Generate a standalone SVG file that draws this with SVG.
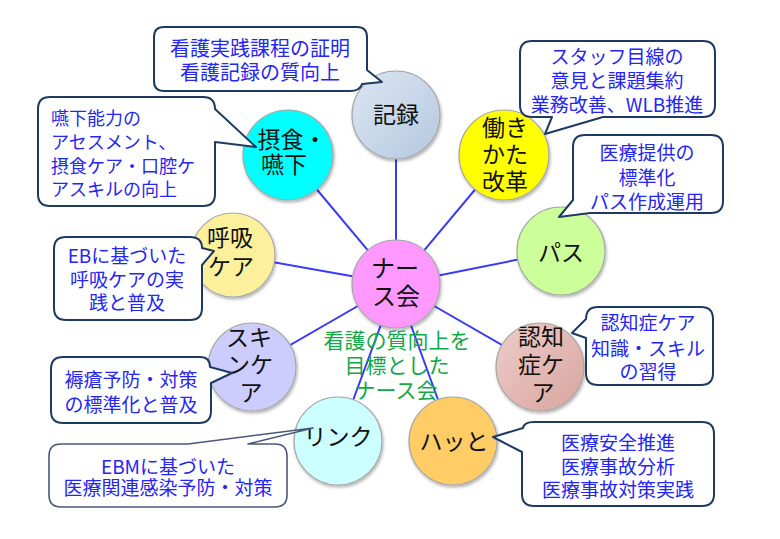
<svg xmlns="http://www.w3.org/2000/svg" width="780" height="539" viewBox="0 0 780 539">
<style>
.bg{fill:#ffffff}
.conn line{stroke:#3a3af5;stroke-width:2}
.node circle{stroke:#a8a8a8;stroke-width:1.2;filter:url(#sh)}
.lbl{font-family:"Noto Sans CJK JP","Noto Sans CJK SC",sans-serif;font-size:23px;fill:#111;text-anchor:middle}
.call path{fill:#ffffff;stroke:#1f3a60;stroke-width:2;stroke-linejoin:round}
.ct{font-family:"Noto Sans CJK JP","Noto Sans CJK SC",sans-serif;font-size:19px;fill:#2626f0;text-anchor:middle}
.gt{font-family:"Noto Sans CJK JP","Noto Sans CJK SC",sans-serif;font-size:21px;fill:#12a84a;text-anchor:middle}
</style>
<defs>
<filter id="sh" x="-20%" y="-20%" width="140%" height="150%">
<feDropShadow dx="1" dy="2" stdDeviation="1.8" flood-color="#000" flood-opacity="0.3"/>
</filter>
<linearGradient id="gKiroku" x1="0" y1="0" x2="1" y2="1">
<stop offset="0" stop-color="#dce6f2"/><stop offset="1" stop-color="#b4c8e0"/>
</linearGradient>
<linearGradient id="gNinchi" x1="0" y1="0" x2="1" y2="1">
<stop offset="0" stop-color="#eecdc9"/><stop offset="1" stop-color="#d8a49e"/>
</linearGradient>
</defs>
<rect class="bg" x="0" y="0" width="780" height="539"/>

<g id="connectors" class="conn">
<line x1="396" y1="284" x2="396" y2="115"/>
<line x1="396" y1="284" x2="288" y2="155"/>
<line x1="396" y1="284" x2="504" y2="155"/>
<line x1="396" y1="284" x2="561" y2="251"/>
<line x1="396" y1="284" x2="233" y2="255"/>
<line x1="396" y1="284" x2="252" y2="367"/>
<line x1="396" y1="284" x2="540" y2="367"/>
<line x1="396" y1="284" x2="338" y2="441"/>
<line x1="396" y1="284" x2="453" y2="441"/>
</g>

<text class="gt" x="397" y="348">看護の質向上を</text>
<text class="gt" x="397" y="373">目標とした</text>
<text class="gt" x="396" y="398">ナース会</text>

<g id="node-kiroku" class="node">
<circle cx="396" cy="115" r="44" fill="url(#gKiroku)"/>
<text class="lbl" x="396" y="123">記録</text>
</g>
<g id="node-sesshoku" class="node">
<circle cx="288" cy="155" r="45" fill="#00ffff"/>
<text class="lbl" x="292" y="148">摂食・</text>
<text class="lbl" x="284" y="173">嚥下</text>
</g>
<g id="node-hataraki" class="node">
<circle cx="504" cy="155" r="45" fill="#ffff00"/>
<text class="lbl" x="505" y="136">働き</text>
<text class="lbl" x="505" y="163">かた</text>
<text class="lbl" x="505" y="190">改革</text>
</g>
<g id="node-pasu" class="node">
<circle cx="561" cy="251" r="44" fill="#ccff99"/>
<text class="lbl" x="561" y="261">パス</text>
</g>
<g id="node-nurse" class="node">
<circle cx="396" cy="284" r="44" fill="#ff99ff"/>
<text class="lbl" x="395" y="277" style="font-size:24px">ナー</text>
<text class="lbl" x="396" y="305" style="font-size:24px">ス会</text>
</g>
<g id="node-kokyu" class="node">
<circle cx="233" cy="255" r="42" fill="#fcf09c"/>
<text class="lbl" x="230" y="246">呼吸</text>
<text class="lbl" x="231" y="275">ケア</text>
</g>
<g id="node-skin" class="node">
<circle cx="252" cy="367" r="44" fill="#ccccff"/>
<text class="lbl" x="249" y="346">スキ</text>
<text class="lbl" x="250" y="373">ンケ</text>
<text class="lbl" x="251" y="401">ア</text>
</g>
<g id="node-ninchi" class="node">
<circle cx="540" cy="367" r="44" fill="url(#gNinchi)"/>
<text class="lbl" x="541" y="345">認知</text>
<text class="lbl" x="541" y="373">症ケ</text>
<text class="lbl" x="543" y="401">ア</text>
</g>
<g id="node-link" class="node">
<circle cx="338" cy="441" r="44" fill="#ccffff"/>
<text class="lbl" x="338" y="445">リンク</text>
</g>
<g id="node-hatto" class="node">
<circle cx="453" cy="441" r="44" fill="#ffcc66"/>
<text class="lbl" x="454" y="450">ハッと</text>
</g>

<g id="callout-kiroku" class="call">
<path d="M164,27 H357 Q367,27 367,37 V70 L382,82 L362,84 Q360,91 350,91 H164 Q154,91 154,81 V37 Q154,27 164,27 Z"/>
<text class="ct" x="260" y="56" style="font-size:20px">看護実践課程の証明</text>
<text class="ct" x="260" y="80" style="font-size:20px">看護記録の質向上</text>
</g>
<g id="callout-sesshoku" class="call">
<path d="M50,97 H203 Q215,97 215,109 L256,147 L215,142 V194 Q215,206 203,206 H50 Q38,206 38,194 V109 Q38,97 50,97 Z"/>
<text class="ct" x="51" y="125" style="font-size:18px;text-anchor:start">嚥下能力の</text>
<text class="ct" x="51" y="149" style="font-size:18px;text-anchor:start">アセスメント、</text>
<text class="ct" x="51" y="173" style="font-size:18px;text-anchor:start">摂食ケア・口腔ケ</text>
<text class="ct" x="51" y="196" style="font-size:18px;text-anchor:start">アスキルの向上</text>
</g>
<g id="callout-hataraki" class="call">
<path d="M532,41 H703 Q715,41 715,53 V105 Q715,117 703,117 H603 L545,134 L552,117 H532 Q520,117 520,105 V53 Q520,41 532,41 Z"/>
<text class="ct" x="617" y="64">スタッフ目線の</text>
<text class="ct" x="617" y="88">意見と課題集約</text>
<text class="ct" x="617" y="112">業務改善、WLB推進</text>
</g>
<g id="callout-pasu" class="call">
<path d="M585,135 H711 Q723,135 723,147 V201 Q723,213 711,213 H590 L559,217 L573,200 V147 Q573,135 585,135 Z"/>
<text class="ct" x="647" y="160">医療提供の</text>
<text class="ct" x="647" y="185">標準化</text>
<text class="ct" x="647" y="209">パス作成運用</text>
</g>
<g id="callout-kokyu" class="call">
<path d="M66,237 H190 Q202,237 202,248 L214,251 L202,265 V308 Q202,320 190,320 H66 Q54,320 54,308 V249 Q54,237 66,237 Z"/>
<text class="ct" x="127" y="263">EBに基づいた</text>
<text class="ct" x="127" y="287">呼吸ケアの実</text>
<text class="ct" x="127" y="310">践と普及</text>
</g>
<g id="callout-skin" class="call">
<path d="M63,357 H200 Q210,357 210,367 L232,373 L211,383 V411 Q211,423 199,423 H63 Q51,423 51,411 V369 Q51,357 63,357 Z"/>
<text class="ct" x="131" y="387">褥瘡予防・対策</text>
<text class="ct" x="131" y="412">の標準化と普及</text>
</g>
<g id="callout-ninchi" class="call">
<path d="M598,307 H701 Q713,307 713,319 V373 Q713,385 701,385 H598 Q586,385 586,373 V338 L572,333 L586,319 Q586,307 598,307 Z"/>
<text class="ct" x="648" y="330">認知症ケア</text>
<text class="ct" x="648" y="356">知識・スキル</text>
<text class="ct" x="648" y="379">の習得</text>
</g>
<g id="callout-link" class="call">
<path d="M61,444 H188 L313,428 L248,444 H275 Q287,444 287,456 V495 Q287,507 275,507 H61 Q49,507 49,495 V456 Q49,444 61,444 Z" style="stroke:#4a5878;stroke-width:1.6"/>
<text class="ct" x="168" y="474">EBMに基づいた</text>
<text class="ct" x="168" y="495">医療関連感染予防・対策</text>
</g>
<g id="callout-hatto" class="call">
<path d="M534,422 H702 Q714,422 714,434 V494 Q714,506 702,506 H534 Q522,506 522,494 V452 L493,437 L523,428 Q524,422 534,422 Z"/>
<text class="ct" x="618" y="450">医療安全推進</text>
<text class="ct" x="618" y="474">医療事故分析</text>
<text class="ct" x="618" y="497">医療事故対策実践</text>
</g>
</svg>
